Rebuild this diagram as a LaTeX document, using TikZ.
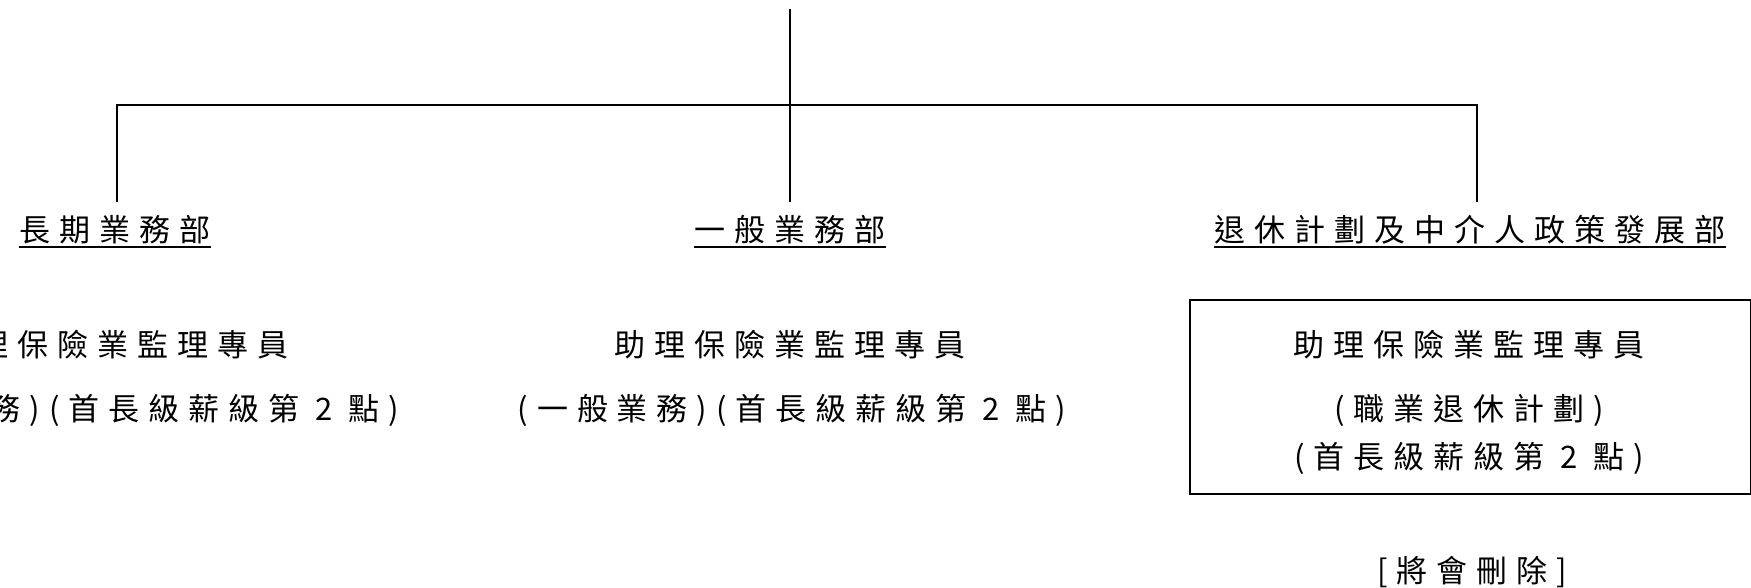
\documentclass[tikz,border=0pt]{standalone}
\usepackage{fontspec}
\newfontfamily\cjk{Noto Sans CJK TC}[LetterSpace=29]
\begin{document}
\begin{tikzpicture}[x=1pt,y=-1pt,
  txt/.style={inner sep=0pt,anchor=base,font=\cjk\fontsize{31}{37}\selectfont},
  conn/.style={line width=2pt},
  uline/.style={line width=2pt}]
\useasboundingbox (0,0) rectangle (1751,587);
\clip (0,0) rectangle (1751,587);
% labels
\node[txt] (llab) at (115,241) {長期業務部};
\node[txt] (mlab) at (790,241) {一般業務部};
\node[txt] (rlab) at (1470,241) {退休計劃及中介人政策發展部};
\foreach \n in {llab,mlab,rlab}
  \draw[uline] ([yshift=-6pt]\n.base west) -- ([yshift=-6pt]\n.base east);
% connectors
\coordinate (top) at (790,9);
\coordinate (bus) at (790,105);
\coordinate (lend) at (117,202);
\coordinate (mend) at (790,202);
\coordinate (rend) at (1477,202);
\draw[conn] (top) -- (mend);
\draw[conn] (lend) |- (bus) -| (rend);
% left text
\node[txt] (l1) at (113,356) {助理保險業監理專員};
\node[txt] (l2) at (125,420) {(長期業務)(首長級薪級第 2 點)};
% middle text
\node[txt] (m1) at (790,356) {助理保險業監理專員};
\node[txt] (m2) at (792,420) {(一般業務)(首長級薪級第 2 點)};
% right box
\node[draw,line width=2pt,minimum width=561pt,minimum height=194pt,anchor=north west,inner sep=0pt] (box) at (1189,299) {};
\node[txt] (r1) at (1469,356) {助理保險業監理專員};
\node[txt] (r2) at (1469,420) {(職業退休計劃)};
\node[txt] (r3) at (1469,468) {(首長級薪級第 2 點)};
\node[txt] (del) at (1472,582) {[將會刪除]};
\end{tikzpicture}
\end{document}
